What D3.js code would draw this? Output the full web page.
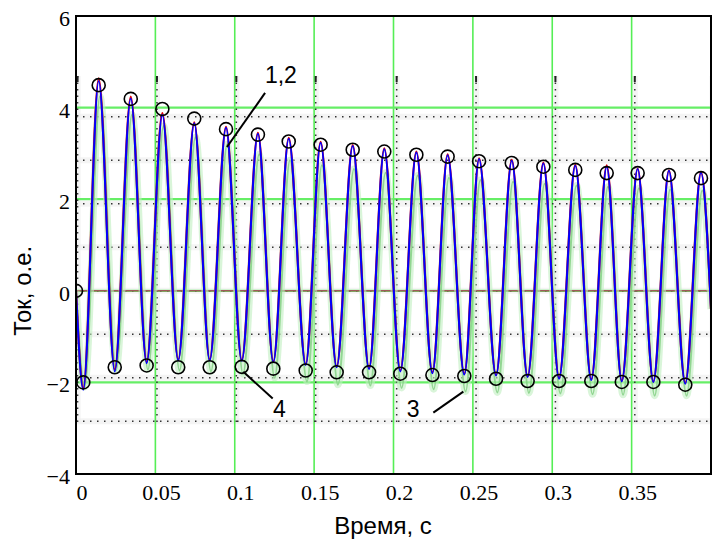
<!DOCTYPE html>
<html>
<head>
<meta charset="utf-8">
<script src="https://cdn.jsdelivr.net/npm/d3@7"></script>
<style>
  body { margin: 0; background: #fff; }
  svg { display: block; }
  .serif { font-family: 'Liberation Serif', 'Times New Roman', serif; }
  .sans { font-family: 'Liberation Sans', Arial, sans-serif; }
</style>
</head>
<body>
<svg id="chart" width="715" height="548"></svg>
<script>
var width = 715,
    height = 548;

// times of the extrema (s)
var tPeak = [0.0143, 0.0345, 0.0544, 0.0745, 0.0945, 0.1146, 0.1340, 0.1541, 0.1743, 0.1942,
             0.2144, 0.2341, 0.2539, 0.2745, 0.2944, 0.3145, 0.3343, 0.3538, 0.3735, 0.3937];
var tTrough = [0.0046, 0.0244, 0.0445, 0.0644, 0.0842, 0.1044, 0.1243, 0.1447, 0.1642, 0.1846,
               0.2043, 0.2245, 0.2446, 0.2646, 0.2845, 0.3043, 0.3246, 0.3438, 0.3637, 0.3838];

// curve 1 (red)
var redPeak = [4.64, 4.24, 3.88, 3.68, 3.58, 3.45, 3.34, 3.25, 3.18, 3.11,
               3.04, 2.98, 2.89, 2.86, 2.80, 2.75, 2.74, 2.67, 2.63, 2.59];
var redTrough = [-2.12, -1.72, -1.55, -1.50, -1.50, -1.51, -1.54, -1.60, -1.65, -1.69,
                 -1.74, -1.78, -1.81, -1.84, -1.87, -1.90, -1.93, -1.96, -1.98, -2.01];
// curve 2 (blue)
var bluePeak = [4.58, 4.20, 3.84, 3.66, 3.56, 3.43, 3.32, 3.23, 3.16, 3.09,
                3.02, 2.96, 2.88, 2.84, 2.78, 2.73, 2.71, 2.66, 2.62, 2.58];
var blueTrough = [-2.16, -1.76, -1.58, -1.52, -1.52, -1.53, -1.56, -1.62, -1.67, -1.71,
                  -1.76, -1.80, -1.83, -1.85, -1.88, -1.92, -1.95, -1.98, -1.99, -2.03];
// curve 3 (oscillogram, green)
var greenLag = 0.0008;
var greenPeak = [4.25, 3.85, 3.60, 3.35, 3.20, 2.98, 2.85, 2.74, 2.66, 2.58,
                 2.52, 2.47, 2.42, 2.38, 2.34, 2.30, 2.27, 2.24, 2.21, 2.19];
var greenTrough = [-2.10, -1.74, -1.72, -1.74, -1.76, -1.82, -1.90, -1.98, -2.05, -2.07,
                   -2.12, -2.15, -2.20, -2.22, -2.23, -2.24, -2.26, -2.27, -2.29, -2.29];
// curve 4 (circles)
var circPeak = [4.49, 4.19, 3.97, 3.76, 3.53, 3.41, 3.26, 3.19, 3.08, 3.04,
                2.97, 2.93, 2.83, 2.79, 2.71, 2.64, 2.57, 2.57, 2.53, 2.46];
var circTrough = [-2.00, -1.67, -1.63, -1.67, -1.67, -1.66, -1.70, -1.74, -1.78, -1.78,
                  -1.81, -1.84, -1.86, -1.92, -1.97, -1.97, -1.97, -1.99, -1.99, -2.05];
var startVal = 0, endT = 0.4, endVal = -0.4;

// axes
var xTicks = [0, 0.05, 0.1, 0.15, 0.2, 0.25, 0.3, 0.35];
var xTickLabels = ['0', '0.05', '0.1', '0.15', '0.2', '0.25', '0.3', '0.35'];
var yTicks = [6, 4, 2, 0, -2, -4];
var yTickLabels = ['6', '4', '2', '0', '\u22122', '\u22124'];
var xGreen = [0.05, 0.1, 0.15, 0.2, 0.25, 0.3, 0.35];
var yGreen = [4, 2, 0, -2];
// dotted grid of the scanned oscillogram
var oscX = [0.001, 0.051, 0.101, 0.151, 0.202, 0.252, 0.302, 0.352, 0.401];
var oscY = [3.8, 2.85, 1.9, 0.95, 0, -0.95, -1.9, -2.85];
var oscTop = 4.69, oscBottom = -2.88;

var margin = {left: 76, top: 16, right: 4, bottom: 74};

var x = d3.scaleLinear().domain([0, 0.4]).range([margin.left, width - margin.right]);
var y = d3.scaleLinear().domain([-4, 6]).range([height - margin.bottom, margin.top]);

var svg = d3.select('#chart');

svg.append('defs').append('clipPath').attr('id', 'clip')
    .append('rect')
    .attr('x', x(0)).attr('y', y(6))
    .attr('width', x(0.4) - x(0)).attr('height', y(-4) - y(6));

function series(peaks, troughs, lag) {
    var pts = [[0, startVal]];
    for (var i = 0; i < tPeak.length; i++) {
        pts.push([tTrough[i] + lag, troughs[i]]);
        pts.push([tPeak[i] + lag, peaks[i]]);
    }
    pts.push([endT, endVal]);
    return pts;
}

var line = d3.line()
    .x(function (d) { return x(d[0]); })
    .y(function (d) { return y(d[1]); })
    .curve(d3.curveMonotoneX);

var plot = svg.append('g').attr('clip-path', 'url(#clip)');

// oscillogram background speckle
plot.selectAll('.oscbandy').data(oscY).enter().append('line')
    .attr('x1', x(0)).attr('x2', x(0.4))
    .attr('y1', d => y(d)).attr('y2', d => y(d))
    .attr('stroke', '#eeeeee').attr('stroke-width', 6).attr('opacity', 0.6);
plot.selectAll('.oscbandx').data(oscX).enter().append('line')
    .attr('x1', d => x(d)).attr('x2', d => x(d))
    .attr('y1', y(oscTop)).attr('y2', y(oscBottom))
    .attr('stroke', '#eeeeee').attr('stroke-width', 6).attr('opacity', 0.6);

// green grid
plot.selectAll('.gx').data(xGreen).enter().append('line')
    .attr('x1', d => x(d)).attr('x2', d => x(d))
    .attr('y1', y(6)).attr('y2', y(-4))
    .attr('stroke', '#55ee55').attr('stroke-width', 1.6);
plot.selectAll('.gy').data(yGreen).enter().append('line')
    .attr('x1', x(0)).attr('x2', x(0.4))
    .attr('y1', d => y(d)).attr('y2', d => y(d))
    .attr('stroke', '#66ee66').attr('stroke-width', 2.2);

// dotted oscillogram grid
plot.selectAll('.oy').data(oscY).enter().append('line')
    .attr('x1', x(0)).attr('x2', x(0.4))
    .attr('y1', d => y(d)).attr('y2', d => y(d))
    .attr('stroke', '#333').attr('stroke-width', 1.5)
    .attr('stroke-dasharray', '1.5,5.5');
plot.selectAll('.ox').data(oscX).enter().append('line')
    .attr('x1', d => x(d)).attr('x2', d => x(d))
    .attr('y1', y(oscTop)).attr('y2', y(oscBottom))
    .attr('stroke', '#333').attr('stroke-width', 1.5)
    .attr('stroke-dasharray', '1.5,5');
plot.selectAll('.omark').data(oscX).enter().append('line')
    .attr('x1', d => x(d)).attr('x2', d => x(d))
    .attr('y1', y(oscTop)).attr('y2', y(oscTop) + 6)
    .attr('stroke', '#222').attr('stroke-width', 2);

// zero line of curve 1
plot.append('line')
    .attr('x1', x(0)).attr('x2', x(0.4))
    .attr('y1', y(0)).attr('y2', y(0))
    .attr('stroke', '#a05a5a').attr('stroke-width', 1.5);

// curve 3 (fuzzy green)
var greenData = series(greenPeak, greenTrough, greenLag);
plot.append('path').datum(greenData)
    .attr('d', line).attr('fill', 'none')
    .attr('stroke', '#bfeebf').attr('stroke-width', 7).attr('opacity', 0.6);
plot.append('path').datum(greenData)
    .attr('d', line).attr('fill', 'none')
    .attr('stroke', '#7fce7f').attr('stroke-width', 2).attr('opacity', 0.8);

// curves 1 and 2
plot.append('path').datum(series(redPeak, redTrough, 0))
    .attr('d', line).attr('fill', 'none')
    .attr('stroke', '#e00000').attr('stroke-width', 2.2);
plot.append('path').datum(series(bluePeak, blueTrough, 0))
    .attr('d', line).attr('fill', 'none')
    .attr('stroke', '#0000ff').attr('stroke-width', 2);

// curve 4 (circles)
var circData = [[0, startVal]];
for (var i = 0; i < tPeak.length; i++) {
    circData.push([tTrough[i], circTrough[i]]);
    circData.push([tPeak[i], circPeak[i]]);
}
plot.selectAll('circle').data(circData).enter().append('circle')
    .attr('cx', d => x(d[0])).attr('cy', d => y(d[1]))
    .attr('r', 6.5)
    .attr('fill', 'none').attr('stroke', '#000').attr('stroke-width', 1.6);

// frame
svg.append('rect')
    .attr('x', x(0)).attr('y', y(6))
    .attr('width', x(0.4) - x(0)).attr('height', y(-4) - y(6))
    .attr('fill', 'none').attr('stroke', '#000').attr('stroke-width', 2);

// tick labels
svg.selectAll('.ytl').data(yTicks).enter().append('text')
    .attr('class', 'serif')
    .attr('x', 70).attr('y', d => y(d) + 10)
    .attr('text-anchor', 'end')
    .attr('font-size', 22)
    .text((d, i) => yTickLabels[i]);
svg.selectAll('.xtl').data(xTicks).enter().append('text')
    .attr('class', 'serif')
    .attr('x', d => x(d) + 6).attr('y', 500)
    .attr('text-anchor', 'middle')
    .attr('font-size', 22)
    .text((d, i) => xTickLabels[i]);

// axis titles
svg.append('text')
    .attr('class', 'sans')
    .attr('x', 383).attr('y', 534)
    .attr('text-anchor', 'middle')
    .attr('font-size', 24)
    .text('Время, с');
svg.append('text')
    .attr('class', 'sans')
    .attr('transform', 'translate(31,' + y(0) + ') rotate(-90)')
    .attr('text-anchor', 'middle')
    .attr('font-size', 24)
    .text('Ток, о.е.');

// curve labels with leaders
var notes = [
    {text: '1,2', tx: 0.119, ty: 4.54, from: [0.1191, 4.32], to: [0.0951, 3.14]},
    {text: '4', tx: 0.1241, ty: -2.75, from: [0.1239, -2.35], to: [0.1054, -1.77]},
    {text: '3', tx: 0.2083, ty: -2.75, from: [0.2251, -2.66], to: [0.2440, -2.20]}
];
notes.forEach(function (n) {
    svg.append('line')
        .attr('x1', x(n.from[0])).attr('y1', y(n.from[1]))
        .attr('x2', x(n.to[0])).attr('y2', y(n.to[1]))
        .attr('stroke', '#000').attr('stroke-width', 2);
    svg.append('text')
        .attr('class', 'sans')
        .attr('x', x(n.tx)).attr('y', y(n.ty))
        .attr('font-size', 23)
        .text(n.text);
});
</script>
</body>
</html>
